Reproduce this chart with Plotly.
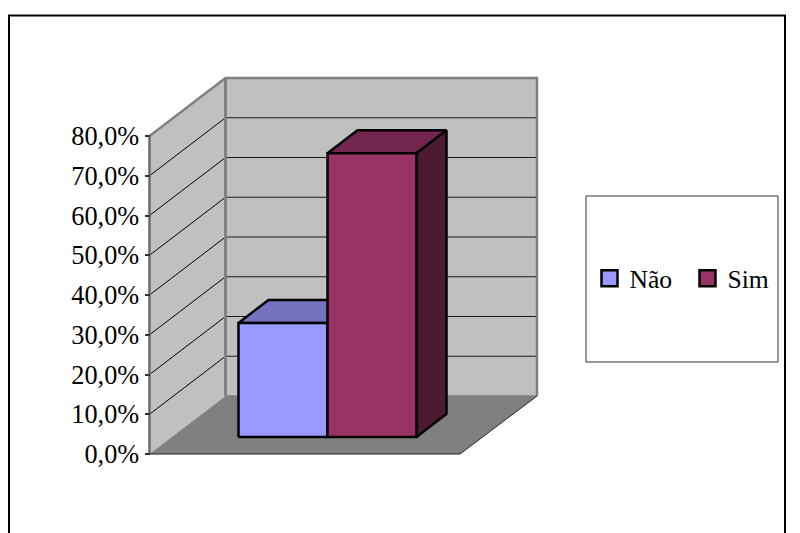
import plotly.graph_objects as go

categories = ["Não", "Sim"]
values = [28.7, 71.4]
bar_colors = ["#9999FF", "#993366"]
top_colors = ["#7373BF", "#732650"]
side_colors = ["#4D4D80", "#4D1A33"]
tick_values = [0, 10, 20, 30, 40, 50, 60, 70, 80]
tick_labels = ["0,0%", "10,0%", "20,0%", "30,0%", "40,0%", "50,0%", "60,0%", "70,0%", "80,0%"]

W, H = 800, 533
PX_PER_UNIT = 3.975
Y0_PX = 454
X_FRONT, X_FRONT_R = 149.5, 460
DX, DY = 76, 58 / PX_PER_UNIT
X_BACK_R = X_FRONT_R + DX + 1
BAR_LEFT, BAR_W = 238.5, 89
BAR_DX, BAR_DY = 30, 23 / PX_PER_UNIT
BAR_BASE = 17 / PX_PER_UNIT
FONT = "Liberation Serif"
FS = 25.6
TICK_FS = 26.3
YMAX = tick_values[-1]

fig = go.Figure()


def poly(xs, ys, fill, line="rgba(0,0,0,0)", width=0):
    fig.add_trace(go.Scatter(x=xs + xs[:1], y=ys + ys[:1], mode="lines", fill="toself",
                             fillcolor=fill, line=dict(color=line, width=width),
                             showlegend=False, hoverinfo="skip", cliponaxis=False))


def path(xs, ys, color, width):
    fig.add_trace(go.Scatter(x=xs, y=ys, mode="lines", line=dict(color=color, width=width),
                             showlegend=False, hoverinfo="skip", cliponaxis=False))


# walls and floor
bx, brx = X_FRONT + DX, X_BACK_R
poly([bx, brx, brx, bx], [DY, DY, YMAX + DY, YMAX + DY], "#C0C0C0")
poly([X_FRONT, bx, bx, X_FRONT], [0, DY, YMAX + DY, YMAX], "#C0C0C0")
poly([X_FRONT, bx, brx, X_FRONT_R], [0, DY, DY, 0], "#808080")

# gridlines
for v in tick_values[1:-1]:
    path([X_FRONT, bx], [v, v + DY], "#000000", 1)
    path([bx, brx], [v + DY, v + DY], "#1A1A1A", 1.2)

# wall borders
path([X_FRONT, X_FRONT, bx, brx, brx], [0, YMAX, YMAX + DY, YMAX + DY, DY], "#808080", 2.5)
path([bx, bx], [DY, YMAX + DY], "#808080", 3)
path([bx, brx], [DY, DY], "#808080", 1.5)
path([X_FRONT, X_FRONT], [0, YMAX], "#666666", 1.5)
path([brx, X_FRONT_R], [DY, 0], "#222222", 1)
path([X_FRONT, X_FRONT_R], [0, 0], "#222222", 1.2)

# bars
for i, (name, v) in enumerate(zip(categories, values)):
    l = BAR_LEFT + i * BAR_W
    r = l + BAR_W
    b = BAR_BASE
    t = b + v
    poly([l, l + BAR_DX, r + BAR_DX, r], [t, t + BAR_DY, t + BAR_DY, t], top_colors[i], "#000000", 2.5)
    poly([r, r + BAR_DX, r + BAR_DX, r], [b, b + BAR_DY, t + BAR_DY, t], side_colors[i], "#000000", 2.5)
for i, (name, v) in enumerate(zip(categories, values)):
    l = BAR_LEFT + i * BAR_W
    r = l + BAR_W
    b = BAR_BASE
    t = b + v
    poly([l, r, r, l], [b, b, t, t], bar_colors[i], "#000000", 2.5)

# legend entries
for name, c in zip(categories, bar_colors):
    fig.add_trace(go.Scatter(x=[None], y=[None], mode="markers", name=name,
                             marker=dict(symbol="square", size=17, color=c,
                                         line=dict(color="#000000", width=2.5))))

fig.update_layout(
    width=W, height=H, margin=dict(l=0, r=0, t=0, b=0),
    paper_bgcolor="white", plot_bgcolor="white",
    font=dict(family=FONT, size=FS, color="#000000"),
    xaxis=dict(range=[0, W], visible=False, fixedrange=True),
    yaxis=dict(range=[(Y0_PX - H) / PX_PER_UNIT, Y0_PX / PX_PER_UNIT],
               anchor="free", position=X_FRONT / W, side="left",
               tickmode="array", tickvals=tick_values, ticktext=tick_labels,
               ticks="outside", ticklen=5, tickwidth=1.5, tickcolor="#333333",
               showgrid=False, zeroline=False, showline=False,
               tickfont=dict(family=FONT, size=TICK_FS, color="#000000"), fixedrange=True),
    legend=dict(orientation="h", x=589.5 / W, y=1 - 278.5 / H, xanchor="left", yanchor="middle",
                bgcolor="rgba(0,0,0,0)", borderwidth=0, itemsizing="trace",
                entrywidth=53, entrywidthmode="pixels",
                font=dict(family=FONT, size=FS, color="#000000")),
    shapes=[
        dict(type="rect", xref="paper", yref="paper", x0=9 / W, x1=785 / W, y0=-0.05, y1=1 - 15.5 / H,
             line=dict(color="#000000", width=2), fillcolor="white", layer="below"),
        dict(type="rect", xref="paper", yref="paper", x0=586 / W, x1=778 / W, y0=1 - 362 / H, y1=1 - 196 / H,
             line=dict(color="#333333", width=1), fillcolor="white", layer="below"),
    ],
)

fig.write_html("out.html", config={"displayModeBar": False},
               post_script="document.body.style.margin='0';document.body.style.overflow='hidden';")
